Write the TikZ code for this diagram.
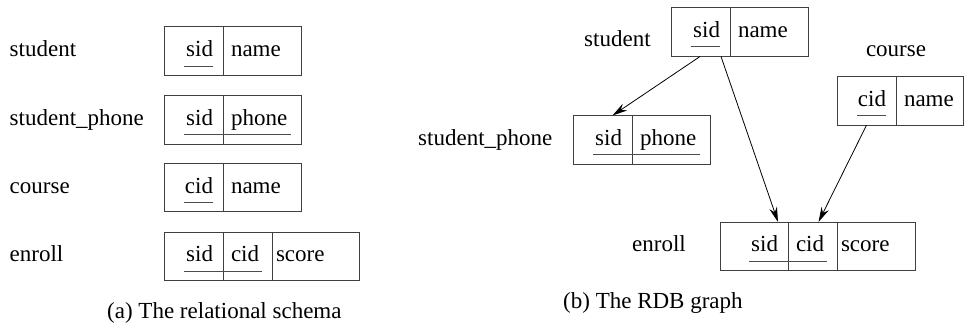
\documentclass[tikz,border=0pt]{standalone}
\usepackage{fontspec}
\setmainfont{Liberation Serif}
\usetikzlibrary{arrows.meta, positioning}
\newcommand{\tabfont}{\fontsize{23}{27}\selectfont}

\begin{document}
\begin{tikzpicture}[
    x=1pt, y=-1pt,
    font=\tabfont,
    >={Stealth[length=15pt, width=8pt, inset=5pt]},
    cell/.style={rectangle, draw=black!75, line width=1pt, outer sep=0pt, inner ysep=0pt, minimum height=48.5pt, text height=16pt, text depth=5pt},
    keycell/.style={cell, inner xsep=10pt, text width=#1, align=right},
    attrcell/.style={cell, inner xsep=8pt, text width=#1, align=left},
    scorecell/.style={cell, inner xsep=4pt, text width=#1, align=left},
    tablabel/.style={anchor=base west, inner sep=0pt},
    keyline/.style={draw=black!70, line width=1pt},
    fklink/.style={->, line width=0.8pt},
]
\useasboundingbox (0,0) rectangle (965,329);

% (a) relational schema
\node[keycell=39pt, anchor=north west] (ls-sid) at (164,27) {sid};
\node[attrcell=62pt, right=0pt of ls-sid] (ls-name) {name};
\node[tablabel] (ls-label) at (ls-sid.base -| 9.5,0) {student};

\node[keycell=39pt, anchor=north west] (lp-sid) at (164,95.7) {sid};
\node[attrcell=62pt, right=0pt of lp-sid] (lp-phone) {phone};
\node[tablabel] (lp-label) at (lp-sid.base -| 9.5,0) {student\_phone};

\node[keycell=39pt, anchor=north west] (lc-cid) at (164,163.3) {cid};
\node[attrcell=62pt, right=0pt of lc-cid] (lc-name) {name};
\node[tablabel] (lc-label) at (lc-cid.base -| 9.5,0) {course};

\node[keycell=39pt, anchor=north west] (le-sid) at (164,232) {sid};
\node[attrcell=33pt, right=0pt of le-sid] (le-cid) {cid};
\node[scorecell=79pt, right=0pt of le-cid] (le-score) {score};
\node[tablabel] (le-label) at (le-sid.base -| 9.5,0) {enroll};

% keys
\draw[keyline] ([xshift=-39pt, yshift=9.5pt]ls-sid.south east) -- ([xshift=-10pt, yshift=9.5pt]ls-sid.south east);
\draw[keyline] ([xshift=-39pt, yshift=9.5pt]lp-sid.south east) -- ([xshift=-10pt, yshift=9.5pt]lp-phone.south east);
\draw[keyline] ([xshift=-39pt, yshift=9.5pt]lc-cid.south east) -- ([xshift=-10pt, yshift=9.5pt]lc-cid.south east);
\draw[keyline] ([xshift=-39pt, yshift=9.5pt]le-sid.south east) -- ([xshift=-10pt, yshift=9.5pt]le-cid.south east);

\node[tablabel] (cap-a) at (107,318) {(a) The relational schema};

% (b) RDB graph
\node[keycell=39pt, anchor=north west] (rs-sid) at (671,8) {sid};
\node[attrcell=62pt, right=0pt of rs-sid] (rs-name) {name};
\node[tablabel] (rs-label) at (584,46.7) {student};

\node[keycell=39pt, anchor=north west] (rp-sid) at (573,115.5) {sid};
\node[attrcell=62pt, right=0pt of rp-sid] (rp-phone) {phone};
\node[tablabel] (rp-label) at (rp-sid.base -| 418,0) {student\_phone};

\node[keycell=39pt, anchor=north west] (rc-cid) at (837,76.7) {cid};
\node[attrcell=51pt, right=0pt of rc-cid] (rc-name) {name};
\node[anchor=base, inner sep=0pt] (rc-label) at ([yshift=20pt]rc-cid.north east) {course};

\node[keycell=48pt, anchor=north west] (re-sid) at (720,222) {sid};
\node[attrcell=33pt, right=0pt of re-sid] (re-cid) {cid};
\node[scorecell=70pt, right=0pt of re-cid] (re-score) {score};
\node[tablabel] (re-label) at (re-sid.base -| 632,0) {enroll};

% keys
\draw[keyline] ([xshift=-39pt, yshift=9.5pt]rs-sid.south east) -- ([xshift=-10pt, yshift=9.5pt]rs-sid.south east);
\draw[keyline] ([xshift=-39pt, yshift=9.5pt]rp-sid.south east) -- ([xshift=-10pt, yshift=9.5pt]rp-phone.south east);
\draw[keyline] ([xshift=-39pt, yshift=9.5pt]rc-cid.south east) -- ([xshift=-10pt, yshift=9.5pt]rc-cid.south east);
\draw[keyline] ([xshift=-39pt, yshift=9.5pt]re-sid.south east) -- ([xshift=-10pt, yshift=9.5pt]re-cid.south east);

% foreign keys
\draw[fklink] ([xshift=-0.5pt]rs-sid.south) -- ([xshift=10pt]rp-sid.north);
\draw[fklink] ([xshift=-9pt]rs-sid.south east) -- ([xshift=-10pt]re-sid.north east);
\draw[fklink] (rc-cid.south) -- ([xshift=6pt]re-cid.north);

\node[tablabel] (cap-b) at (563,308) {(b) The RDB graph};

\end{tikzpicture}
\end{document}
